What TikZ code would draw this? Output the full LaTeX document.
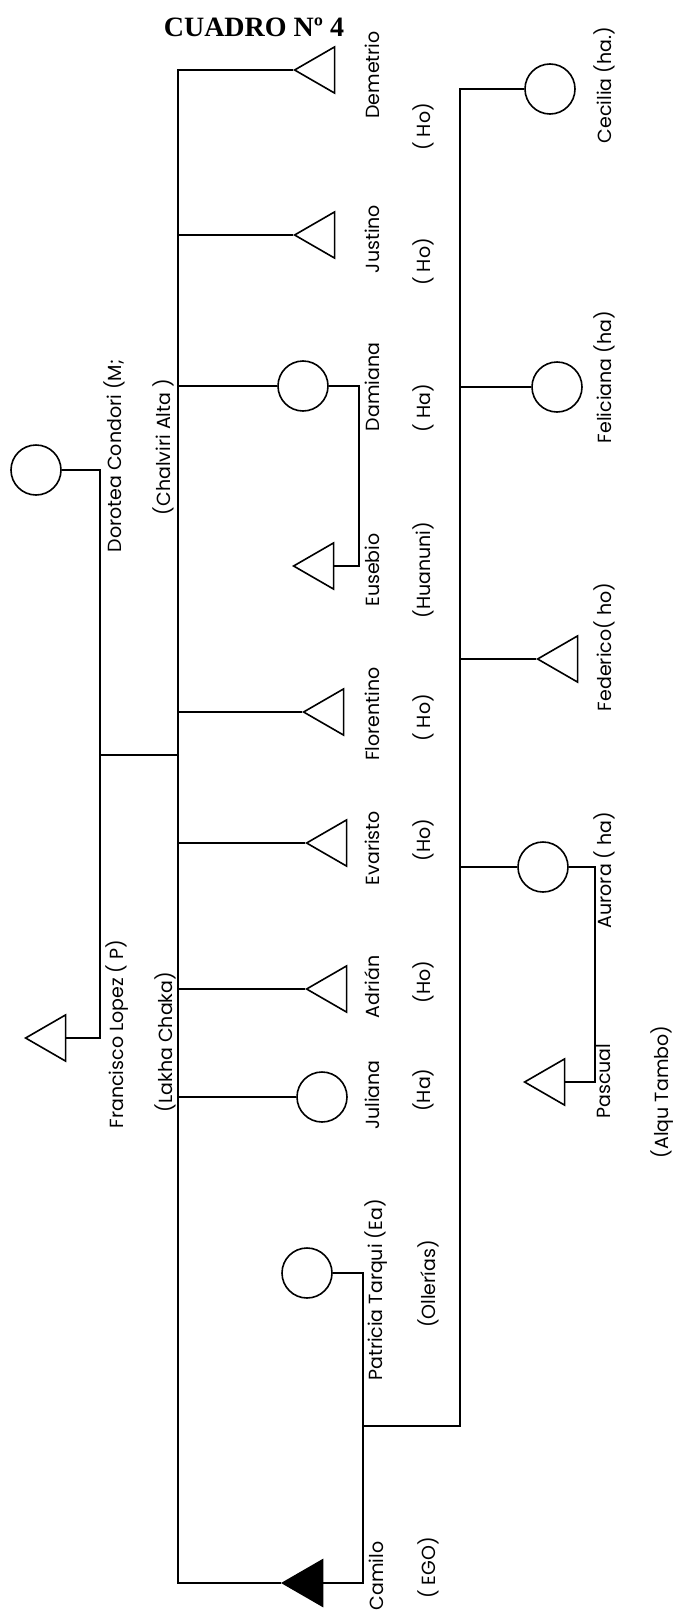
\documentclass[tikz,border=0pt]{standalone}
\usepackage{fontspec}
\setmainfont{Poppins}
\newfontfamily\titlefont{Liberation Serif}
\usetikzlibrary{shapes.geometric}

\tikzset{
  man/.style={draw, shape=isosceles triangle, shape border rotate=180,
    isosceles triangle apex angle=60, minimum height=20pt, inner sep=0pt,
    anchor=apex},
  woman/.style={draw, circle, minimum size=25pt, inner sep=0pt},
  lbl/.style={rotate=90, font=\fontsize{9.5}{11}\selectfont, inner sep=0pt},
  kin/.style={line width=0.8pt}
}

\begin{document}
\begin{tikzpicture}[x=0.5pt, y=-0.5pt, kin]
\useasboundingbox (0,0) rectangle (677,1611);

% title
\node[font=\titlefont\bfseries\fontsize{14}{16}\selectfont] (title) at (254,27) {CUADRO Nº 4};

% parents
\node[man] (francisco) at (24,1038) {};
\node[woman] (dorotea) at (36,470) {};
\node[lbl] (franciscolbl) at (117,1034) {Francisco Lopez ( P)};
\node[lbl] (dorotealbl) at (114,456) {Dorotea Condori (M;};
\node[lbl] (lakha) at (165,1042) {(Lakha Chaka)};
\node[lbl] (chalviri) at (163,447) {(Chalviri Alta )};

% siblings
\node[man] (demetrio) at (293,70) {};
\node[man] (justino) at (293,235) {};
\node[woman] (damiana) at (303,386) {};
\node[man] (eusebio) at (292,566) {};
\node[man] (florentino) at (302,712) {};
\node[man] (evaristo) at (305,843) {};
\node[man] (adrian) at (305,989) {};
\node[woman] (juliana) at (322,1097) {};
\node[woman] (patricia) at (307,1273) {};
\node[man, fill=black] (camilo) at (281,1583) {};

\node[lbl] at (372,75) {Demetrio};
\node[lbl] at (423,127) {( Ho)};
\node[lbl] at (372,239) {Justino};
\node[lbl] at (423,262) {( Ho)};
\node[lbl] at (372,387) {Damiana};
\node[lbl] at (423,408) {( Ha)};
\node[lbl] at (372,570) {Eusebio};
\node[lbl] at (423,570) {(Huanuni)};
\node[lbl] at (372,714) {Florentino};
\node[lbl] at (423,718) {( Ho)};
\node[lbl] at (372,848) {Evaristo};
\node[lbl] at (423,840) {(Ho)};
\node[lbl] at (372,987) {Adrián};
\node[lbl] at (423,982) {(Ho)};
\node[lbl] at (372,1095) {Juliana};
\node[lbl] at (423,1090) {(Ha)};
\node[lbl] at (376,1290) {Patricia Tarqui (Ea)};
\node[lbl] at (428,1284) {(Ollerías)};
\node[lbl] at (376,1576) {Camilo};
\node[lbl] at (428,1568) {( EGO)};

% children of ego
\node[woman] (cecilia) at (550,89) {};
\node[woman] (feliciana) at (557,387) {};
\node[man] (federico) at (536,659) {};
\node[woman] (aurora) at (543,867) {};
\node[man] (pascual) at (523,1082) {};

\node[lbl] at (604,85) {Cecilia (ha.)};
\node[lbl] at (604,377) {Feliciana (ha)};
\node[lbl] at (604,647) {Federico( ho)};
\node[lbl] at (604,870) {Aurora ( ha)};
\node[lbl] at (604,1081) {Pascual};
\node[lbl] at (662,1092) {(Alqu Tambo)};

% lines
\coordinate (sibtop) at (178,70);
\coordinate (sibbot) at (178,1583);
\coordinate (par) at (100,755);
\coordinate (dameus) at (359,470);
\coordinate (ego) at (363,1426);
\coordinate (kidbot) at (460,1426);
\coordinate (kidtop) at (460,89);
\coordinate (aurpas) at (595,970);

\draw (dorotea.east) -| (par) |- (francisco.east);
\draw (par) -- (par -| sibtop);
\draw (demetrio.apex) -- (sibtop) -- (sibbot) -- (camilo.apex);
\draw (justino.apex) -- (justino.apex -| sibtop);
\draw (damiana.west) -- (damiana.west -| sibtop);
\draw (florentino.apex) -- (florentino.apex -| sibtop);
\draw (evaristo.apex) -- (evaristo.apex -| sibtop);
\draw (adrian.apex) -- (adrian.apex -| sibtop);
\draw (juliana.west) -- (juliana.west -| sibtop);
\draw (damiana.east) -| (dameus) |- (eusebio.east);
\draw (patricia.east) -| (ego) |- (camilo.east);
\draw (ego) -- (kidbot) -- (kidtop) -- (cecilia.west);
\draw (feliciana.west) -- (feliciana.west -| kidtop);
\draw (federico.apex) -- (federico.apex -| kidtop);
\draw (aurora.west) -- (aurora.west -| kidtop);
\draw (aurora.east) -| (aurpas) |- (pascual.east);
\end{tikzpicture}
\end{document}
